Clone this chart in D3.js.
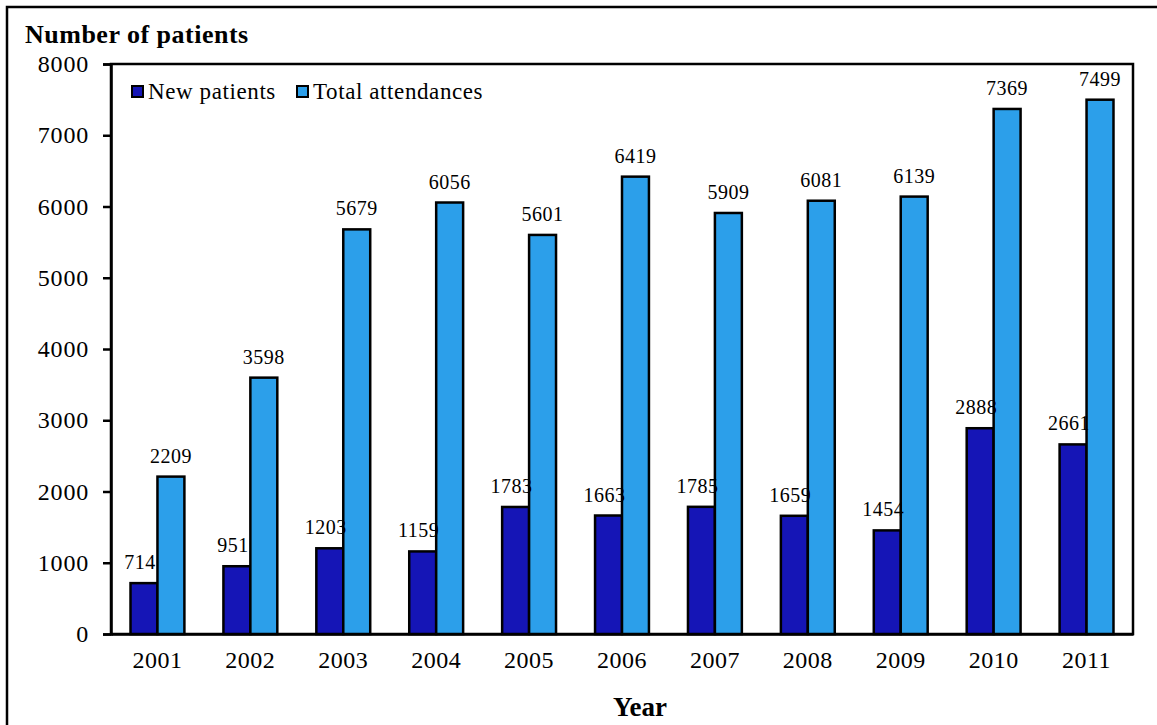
<!DOCTYPE html>
<html><head><meta charset="utf-8">
<script src="https://cdn.jsdelivr.net/npm/d3@7"></script>
<style>body{margin:0;background:#fff}svg{display:block}text{font-family:"Liberation Serif","Times New Roman",serif;fill:#000}</style>
</head><body><svg id="c" width="1157" height="725"></svg>
<script>
const years = ["2001","2002","2003","2004","2005","2006","2007","2008","2009","2010","2011"];
const newPatients = [714,951,1203,1159,1783,1663,1785,1659,1454,2888,2661];
const totalAttendances = [2209,3598,5679,6056,5601,6419,5909,6081,6139,7369,7499];
const seriesNames = ["New patients","Total attendances"];
const yTicks = [0,1000,2000,3000,4000,5000,6000,7000,8000];
const colors = ["#1515B6","#2C9FEA"];

const svg = d3.select("#c");
const m = {l:111, t:64, r:1133, b:634};
const x = d3.scaleBand().domain(years).range([m.l, m.r]).paddingInner(0.42).paddingOuter(0.21);
const y = d3.scaleLinear().domain([0,8000]).range([m.b, m.t]);
const x1 = d3.scaleBand().domain([0,1]).range([0, x.bandwidth()]);

// outer frame
svg.append("rect").attr("x",7).attr("y",7).attr("width",1170).attr("height",740)
  .attr("fill","none").attr("stroke","#000").attr("stroke-width",2.5);

// plot area border
svg.append("rect").attr("x",m.l).attr("y",m.t).attr("width",m.r-m.l).attr("height",m.b-m.t)
  .attr("fill","none").attr("stroke","#000").attr("stroke-width",2.5);

const series = [newPatients, totalAttendances];
series.forEach((vals, si) => {
  svg.append("g").selectAll("rect").data(vals).join("rect")
    .attr("x",(d,i)=>x(years[i])+x1(si))
    .attr("y",d=>y(d))
    .attr("width",x1.bandwidth())
    .attr("height",d=>y(0)-y(d))
    .attr("fill",colors[si]).attr("stroke","#000").attr("stroke-width",2.5);
});
series.forEach((vals, si) => {
  svg.append("g").selectAll("text").data(vals).join("text")
    .attr("x",(d,i)=>x(years[i])+x1(si)+x1.bandwidth()/2 - (si===0?4:0))
    .attr("y",d=>y(d)-14)
    .attr("text-anchor","middle").attr("font-size",20).attr("letter-spacing","0.5px").text(d=>d);
});

// y axis
const yAxis = svg.append("g").attr("transform",`translate(${m.l},0)`)
  .call(d3.axisLeft(y).tickValues(yTicks).tickSize(8).tickPadding(14).tickFormat(d3.format("d")));
yAxis.select(".domain").attr("stroke","#000").attr("stroke-width",2.5);
yAxis.selectAll(".tick line").attr("stroke","#000").attr("stroke-width",2.5);
yAxis.selectAll(".tick text").attr("font-size",24).attr("letter-spacing","0.8px").attr("fill","#000");

// x axis
const xAxis = svg.append("g").attr("transform",`translate(0,${m.b})`)
  .call(d3.axisBottom(x).tickSize(0).tickPadding(17));
xAxis.select(".domain").attr("stroke","#000").attr("stroke-width",2.5);
xAxis.selectAll(".tick text").attr("font-size",24).attr("letter-spacing","0.5px").attr("fill","#000");

// titles
svg.append("text").attr("x",25).attr("y",43).attr("font-size",26).attr("letter-spacing","0.5px").attr("font-weight","bold").text("Number of patients");
svg.append("text").attr("x",640).attr("y",716).attr("text-anchor","middle").attr("font-size",27).attr("font-weight","bold").text("Year");

// legend
const legX = [132, 297];
seriesNames.forEach((n,i)=>{
  svg.append("rect").attr("x",legX[i]).attr("y",86).attr("width",11).attr("height",11)
    .attr("fill",colors[i]).attr("stroke","#000").attr("stroke-width",2);
  svg.append("text").attr("x",legX[i]+16).attr("y",99).attr("font-size",23).attr("letter-spacing","0.6px").text(n);
});
</script></body></html>
